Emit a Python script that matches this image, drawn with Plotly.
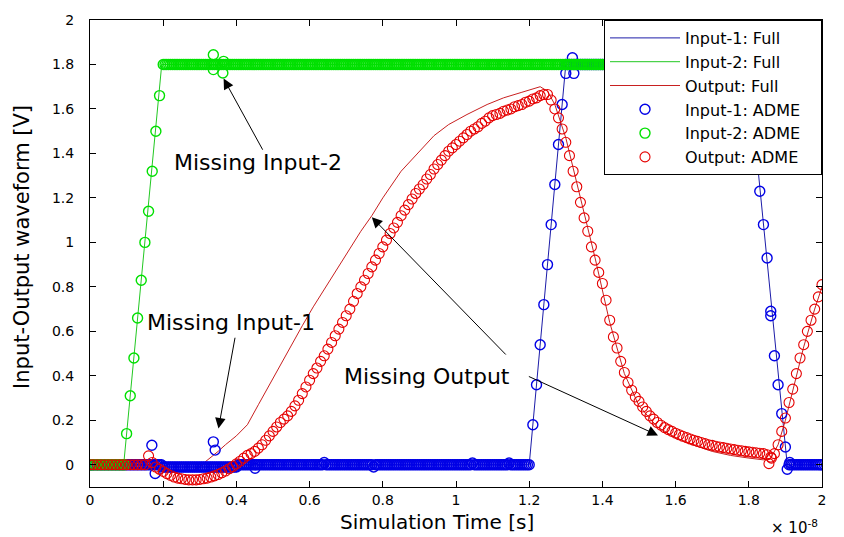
import plotly.graph_objects as go

# ---------------- data (time in units of 1e-8 s) ----------------
# "Full" simulation waveforms (breakpoints)
t_in1_full = [0.0, 0.18, 0.20, 0.40, 0.42, 1.20, 1.30, 1.797, 1.905, 2.0]
v_in1_full = [0.0, 0.0, -0.01, -0.01, 0.0, 0.0, 1.80, 1.80, 0.0, 0.0]

t_in2_full = [0.0, 0.092, 0.196, 2.0]
v_in2_full = [0.0, 0.0, 1.80, 1.80]

t_out_full = [0.0, 0.16, 0.18, 0.20, 0.24, 0.28, 0.30, 0.32, 0.35, 0.37, 0.40, 0.43,
              0.46, 0.49, 0.52, 0.55, 0.58, 0.61, 0.65, 0.70, 0.74, 0.77, 0.80, 0.85,
              0.90, 0.94, 0.98, 1.03, 1.085, 1.13, 1.18, 1.23, 1.25, 1.27, 1.30, 1.34,
              1.38, 1.42, 1.46, 1.50, 1.55, 1.60, 1.65, 1.70, 1.75, 1.80, 1.84, 1.86,
              1.88, 1.90, 1.92, 1.95, 1.98, 2.0]
v_out_full = [0.0, 0.0, -0.01, -0.02, -0.03, -0.025, -0.01, 0.02, 0.06, 0.09, 0.13, 0.18,
              0.27, 0.36, 0.445, 0.535, 0.625, 0.71, 0.815, 0.945, 1.05, 1.12, 1.20, 1.32,
              1.41, 1.48, 1.53, 1.575, 1.62, 1.65, 1.675, 1.70, 1.68, 1.62, 1.47, 1.20,
              0.93, 0.64, 0.41, 0.265, 0.17, 0.122, 0.088, 0.06, 0.042, 0.03, 0.022, 0.03,
              0.09, 0.20, 0.33, 0.53, 0.70, 0.80]

# ADME samples: inputs on a 0.005 time grid (None = no sample), output on a 0.01 grid
t_fine = [i / 200 for i in range(401)]
t_grid = [i / 100 for i in range(201)]

N = None
v_in1_adme = [
    0, 0, 0, 0, 0, 0, 0, 0, 0, 0, 0, 0, 0, 0, 0, 0, 0, 0, 0, 0,                       # 0.000-0.095
    0, 0, 0, 0, 0, 0, 0, 0, 0, 0, 0, 0, 0, 0, 0, 0, 0, 0, 0, 0,                       # 0.100-0.195
    -0.01, -0.01, -0.01, -0.01, -0.01, -0.01, -0.01, -0.01, -0.01, -0.01,             # 0.200-0.245
    -0.01, -0.01, -0.01, -0.01, -0.01, -0.01, -0.01, -0.01, -0.01, -0.01,             # 0.250-0.295
    -0.01, -0.01, -0.01, -0.01, -0.01, -0.01, -0.01, -0.01, -0.01, -0.01,             # 0.300-0.345
    -0.01, -0.01, -0.01, -0.01, -0.01, -0.01, -0.01, -0.01, -0.01, -0.01, -0.01,      # 0.350-0.400
    0, 0, 0, 0, 0, 0, 0, 0, 0, 0, 0, 0, 0, 0, 0, 0, 0, 0, 0, 0,                       # 0.405-0.500
    0, 0, 0, 0, 0, 0, 0, 0, 0, 0, 0, 0, 0, 0, 0, 0, 0, 0, 0, 0,                       # 0.505-0.600
    0, 0, 0, 0, 0, 0, 0, 0.01, 0, 0, 0, 0, 0, 0, 0, 0, 0, 0, 0, 0,                    # 0.605-0.700
    0, 0, 0, 0, 0, 0, 0, 0, 0, 0, 0, 0, 0, 0, -0.01, 0, 0, 0, 0, 0,                   # 0.705-0.800
    0, 0, 0, 0, 0, 0, 0, 0, 0, 0, 0, 0, 0, 0, 0, 0, 0, 0, 0, 0,                       # 0.805-0.900
    0, 0, 0, 0, 0, 0, 0, 0, 0, 0, 0, 0, 0, 0, 0, 0, 0, 0, 0, 0,                       # 0.905-1.000
    0, 0, 0, 0, 0, 0, 0, 0, 0.008, 0, 0, 0, 0, 0, 0, 0, 0, 0, 0, 0,                   # 1.005-1.100
    0, 0, 0, 0, 0, 0, 0, 0, 0.008, 0, 0, 0, 0, 0, 0, 0, 0, 0, 0, 0,                   # 1.105-1.200
    N, 0.18, N, 0.36, N, 0.54, N, 0.72, N, 0.90, N, 1.08, N, 1.26, N, 1.44, N, 1.62, N, 1.80,  # 1.205-1.300
    1.8, 1.8, 1.8, 1.8, 1.8, 1.8, 1.8, 1.8, 1.8, 1.8, 1.8, 1.8, 1.8, 1.8, 1.8, 1.8, 1.8, 1.8, 1.8, 1.8,  # 1.305-1.400
    1.8, 1.8, 1.8, 1.8, 1.8, 1.8, 1.8, 1.8, 1.8, 1.8, 1.8, 1.8, 1.8, 1.8, 1.8, 1.8, 1.8, 1.8, 1.8, 1.8,  # 1.405-1.500
    1.8, 1.8, 1.8, 1.8, 1.8, 1.8, 1.8, 1.8, 1.8, 1.8, 1.8, 1.8, 1.8, 1.8, 1.8, 1.8, 1.8, 1.8, 1.8, 1.8,  # 1.505-1.600
    1.8, 1.8, 1.8, 1.8, 1.8, 1.8, 1.8, 1.8, 1.8, 1.8, 1.8, 1.8, 1.8, 1.8, 1.8, 1.8, 1.8, 1.8, 1.8, 1.8,  # 1.605-1.700
    1.8, 1.8, 1.8, 1.8, 1.8, 1.8, 1.8, 1.8, 1.8, 1.8, 1.8, 1.8, 1.8, 1.8, 1.8, 1.8, 1.8, 1.8, 1.8, 1.8,  # 1.705-1.800
    N, 1.60, N, 1.42, N, 1.23, N, 1.08, N, 0.93, N, 0.69, N, 0.49, N, 0.36, N, 0.23, N, 0.08, N, 0.0,    # 1.805-1.910
    0, 0, 0, 0, 0, 0, 0, 0, 0, 0, 0, 0, 0, 0, 0, 0, 0, 0,                             # 1.915-2.000
]
t_in1_extra = [0.169, 0.178, 0.337, 0.342, 0.451, 1.300, 1.318, 1.322, 1.860, 1.905, 1.912]
v_in1_extra = [0.088, -0.039, 0.103, 0.066, -0.016, 1.76, 1.83, 1.76, 0.67, -0.02, 0.01]

v_in2_adme = [
    0, 0, 0, 0, 0, 0, 0, 0, 0, 0, 0, 0, 0, 0, 0, 0, 0, 0, 0, 0,                       # 0.000-0.095
    0.14, N, 0.31, N, 0.48, N, 0.66, N, 0.83, N, 1.00, N, 1.14, N, 1.32, N, 1.50, N, 1.66, N,  # 0.100-0.195
    1.8, 1.8, 1.8, 1.8, 1.8, 1.8, 1.8, 1.8, 1.8, 1.8, 1.8, 1.8, 1.8, 1.8, 1.8, 1.8, 1.8, 1.8, 1.8, 1.8,  # 0.200-0.295
    1.8, 1.8, 1.8, 1.8, 1.8, 1.8, 1.8, 1.8, 1.8, 1.8, 1.8, 1.8, 1.8, 1.8, 1.8, 1.8, 1.8, 1.8, 1.8, 1.8,  # 0.300-0.395
    1.8, 1.8, 1.8, 1.8, 1.8, 1.8, 1.8, 1.8, 1.8, 1.8, 1.8, 1.8, 1.8, 1.8, 1.8, 1.8, 1.8, 1.8, 1.8, 1.8,  # 0.400-0.495
    1.8, 1.8, 1.8, 1.8, 1.8, 1.8, 1.8, 1.8, 1.8, 1.8, 1.8, 1.8, 1.8, 1.8, 1.8, 1.8, 1.8, 1.8, 1.8, 1.8,  # 0.500-0.595
    1.8, 1.8, 1.8, 1.8, 1.8, 1.8, 1.8, 1.8, 1.8, 1.8, 1.8, 1.8, 1.8, 1.8, 1.8, 1.8, 1.8, 1.8, 1.8, 1.8,  # 0.600-0.695
    1.8, 1.8, 1.8, 1.8, 1.8, 1.8, 1.8, 1.8, 1.8, 1.8, 1.8, 1.8, 1.8, 1.8, 1.8, 1.8, 1.8, 1.8, 1.8, 1.8,  # 0.700-0.795
    1.8, 1.8, 1.8, 1.8, 1.8, 1.8, 1.8, 1.8, 1.8, 1.8, 1.8, 1.8, 1.8, 1.8, 1.8, 1.8, 1.8, 1.8, 1.8, 1.8,  # 0.800-0.895
    1.8, 1.8, 1.8, 1.8, 1.8, 1.8, 1.8, 1.8, 1.8, 1.8, 1.8, 1.8, 1.8, 1.8, 1.8, 1.8, 1.8, 1.8, 1.8, 1.8,  # 0.900-0.995
    1.8, 1.8, 1.8, 1.8, 1.8, 1.8, 1.8, 1.8, 1.8, 1.8, 1.8, 1.8, 1.8, 1.8, 1.8, 1.8, 1.8, 1.8, 1.8, 1.8,  # 1.000-1.095
    1.8, 1.8, 1.8, 1.8, 1.8, 1.8, 1.8, 1.8, 1.8, 1.8, 1.8, 1.8, 1.8, 1.8, 1.8, 1.8, 1.8, 1.8, 1.8, 1.8,  # 1.100-1.195
    1.8, 1.8, 1.8, 1.8, 1.8, 1.8, 1.8, 1.8, 1.8, 1.8, 1.8, 1.8, 1.8, 1.8, 1.8, 1.8, 1.8, 1.8, 1.8, 1.8,  # 1.200-1.295
    1.8, 1.8, 1.8, 1.8, 1.8, 1.8, 1.8, 1.8, 1.8, 1.8, 1.8, 1.8, 1.8, 1.8, 1.8, 1.8, 1.8, 1.8, 1.8, 1.8,  # 1.300-1.395
    1.8, 1.8, 1.8, 1.8, 1.8, 1.8, 1.8, 1.8, 1.8, 1.8, 1.8, 1.8, 1.8, 1.8, 1.8, 1.8, 1.8, 1.8, 1.8, 1.8,  # 1.400-1.495
    1.8, 1.8, 1.8, 1.8, 1.8, 1.8, 1.8, 1.8, 1.8, 1.8, 1.8, 1.8, 1.8, 1.8, 1.8, 1.8, 1.8, 1.8, 1.8, 1.8,  # 1.500-1.595
    1.8, 1.8, 1.8, 1.8, 1.8, 1.8, 1.8, 1.8, 1.8, 1.8, 1.8, 1.8, 1.8, 1.8, 1.8, 1.8, 1.8, 1.8, 1.8, 1.8,  # 1.600-1.695
    1.8, 1.8, 1.8, 1.8, 1.8, 1.8, 1.8, 1.8, 1.8, 1.8, 1.8, 1.8, 1.8, 1.8, 1.8, 1.8, 1.8, 1.8, 1.8, 1.8,  # 1.700-1.795
    1.8, 1.8, 1.8, 1.8, 1.8, 1.8, 1.8, 1.8, 1.8, 1.8, 1.8, 1.8, 1.8, 1.8, 1.8, 1.8, 1.8, 1.8, 1.8, 1.8,  # 1.800-1.895
    1.8, 1.8, 1.8, 1.8, 1.8, 1.8, 1.8, 1.8, 1.8, 1.8, 1.8, 1.8, 1.8, 1.8, 1.8, 1.8, 1.8, 1.8, 1.8, 1.8,  # 1.900-1.995
    1.8,                                                                              # 2.000
]
t_in2_extra = [0.337, 0.337, 0.365, 0.363]
v_in2_extra = [1.844, 1.777, 1.814, 1.762]

v_out_adme = [
    0, 0, 0, 0, 0, 0, 0, 0, 0, 0, 0, 0, 0, 0, 0, 0,                                   # 0.00-0.15
    0.04, 0.01, -0.01, -0.02, -0.03, -0.04, -0.048, -0.055, -0.06, -0.063,            # 0.16-0.25
    -0.066, -0.068, -0.068, -0.068, -0.066, -0.063, -0.06, -0.055, -0.05, -0.044,     # 0.26-0.35
    -0.036, -0.028, -0.018, -0.008, 0.004, 0.016, 0.03, 0.042, 0.05, 0.06,            # 0.36-0.45
    0.075, 0.09, 0.11, 0.13, 0.15,                                                    # 0.46-0.50
    0.17, 0.19, 0.205, 0.22, 0.24, 0.265, 0.29, 0.32, 0.35, 0.38,                     # 0.51-0.60
    0.41, 0.435, 0.465, 0.49, 0.52, 0.55, 0.58, 0.61, 0.64, 0.67,                     # 0.61-0.70
    0.70, 0.735, 0.77, 0.80, 0.83, 0.86, 0.89, 0.92, 0.95, 0.98,                      # 0.71-0.80
    1.01, 1.04, 1.065, 1.09, 1.12, 1.145, 1.17, 1.195, 1.22, 1.24,                    # 0.81-0.90
    1.26, 1.285, 1.305, 1.33, 1.35, 1.37, 1.39, 1.41, 1.425, 1.44,                    # 0.91-1.00
    1.455, 1.47, 1.485, 1.50, 1.51, 1.52, 1.535, 1.545, 1.56, 1.57,                   # 1.01-1.10
    1.575, 1.58, 1.59, 1.595, 1.60, 1.61, 1.615, 1.62, 1.63, 1.635,                   # 1.11-1.20
    1.645, 1.65, 1.66, 1.665, 1.665, 1.64, 1.60, 1.56, 1.51, 1.45,                    # 1.21-1.30
    1.39, 1.32, 1.25, 1.18, 1.11, 1.05, 0.98, 0.92, 0.865, 0.815,                     # 1.31-1.40
    0.74, 0.65, 0.575, 0.525, 0.465, 0.415, 0.37, 0.335, 0.305, 0.285,                # 1.41-1.50
    0.26, 0.24, 0.22, 0.205, 0.19, 0.178, 0.167, 0.158, 0.15, 0.142,                  # 1.51-1.60
    0.135, 0.128, 0.122, 0.116, 0.11, 0.105, 0.10, 0.095, 0.09, 0.087,                # 1.61-1.70
    0.083, 0.08, 0.077, 0.074, 0.071, 0.068, 0.065, 0.063, 0.06, 0.058,               # 1.71-1.80
    0.056, 0.054, 0.052, 0.05, 0.045, 0.035, 0.05, 0.09, 0.15, 0.21,                  # 1.81-1.90
    0.28, 0.34, 0.41, 0.48, 0.54, 0.60, 0.65, 0.70, 0.755, 0.81,                      # 1.91-2.00
]
t_out_extra = [1.855, 1.862]
v_out_extra = [0.005, 0.03]

assert len(v_in1_adme) == len(t_fine)
assert len(v_in2_adme) == len(t_fine)
assert len(v_out_adme) == len(t_grid)

tick_vals = [0, 0.2, 0.4, 0.6, 0.8, 1.0, 1.2, 1.4, 1.6, 1.8, 2.0]
tick_text = ["0", "0.2", "0.4", "0.6", "0.8", "1", "1.2", "1.4", "1.6", "1.8", "2"]

# annotation texts and arrows: (tip_x, tip_y, tail_x, tail_y)
notes = [
    ("Missing Input-2", 0.224, 1.36),
    ("Missing Input-1", 0.150, 0.638),
    ("Missing Output", 0.689, 0.397),
]
arrows = [
    (0.365, 1.737, 0.474, 1.41),
    (0.351, 0.163, 0.397, 0.578),
    (0.770, 1.113, 1.140, 0.489),
    (1.552, 0.132, 1.195, 0.400),
]

# ---------------- figure ----------------
FONT = "DejaVu Sans, Liberation Sans, Arial"
C_BLUE_L, C_GREEN_L, C_RED_L = "#1c1ca8", "#22c822", "#c82020"
C_BLUE_M, C_GREEN_M, C_RED_M = "#0000e6", "#00e000", "#e60000"
PAD = "\u00a0\u00a0\u00a0"

fig = go.Figure()
for t, v, c, name in [(t_in1_full, v_in1_full, C_BLUE_L, "Input-1: Full"),
                      (t_in2_full, v_in2_full, C_GREEN_L, "Input-2: Full"),
                      (t_out_full, v_out_full, C_RED_L, "Output: Full")]:
    fig.add_trace(go.Scatter(x=t, y=v, mode="lines", name=name + PAD,
                             line=dict(color=c, width=1)))

for tg, v, te, ve, c, lw, name in [(t_fine, v_in1_adme, t_in1_extra, v_in1_extra, C_BLUE_M, 1.4, "Input-1: ADME"),
                                   (t_fine, v_in2_adme, t_in2_extra, v_in2_extra, C_GREEN_M, 1.4, "Input-2: ADME"),
                                   (t_grid, v_out_adme, t_out_extra, v_out_extra, C_RED_M, 1.1, "Output: ADME")]:
    fig.add_trace(go.Scatter(x=tg + te, y=v + ve, mode="markers", name=name + PAD,
                             marker=dict(symbol="circle-open", size=10, color=c,
                                         line=dict(width=lw, color=c))))

annots = []
for txt, x, y in notes:
    annots.append(dict(x=x, y=y, xref="x", yref="y", text=txt, showarrow=False,
                       xanchor="left", yanchor="middle",
                       font=dict(family=FONT, size=22, color="black")))
for tx, ty, ax, ay in arrows:
    annots.append(dict(x=tx, y=ty, ax=ax, ay=ay, xref="x", yref="y", axref="x", ayref="y",
                       text="", showarrow=True, arrowhead=2, arrowsize=2.1,
                       arrowwidth=1, arrowcolor="black"))
# axis titles and exponent
annots.append(dict(x=0.474, y=-0.074, xref="paper", yref="paper", text="Simulation Time [s]",
                   showarrow=False, xanchor="center", yanchor="middle",
                   font=dict(family=FONT, size=20, color="black")))
annots.append(dict(x=-0.093, y=0.514, xref="paper", yref="paper", text="Input-Output waveform [V]",
                   showarrow=False, xanchor="center", yanchor="middle", textangle=-90,
                   font=dict(family=FONT, size=21, color="black")))
annots.append(dict(x=0.962, y=-0.086, xref="paper", yref="paper", text="× 10<sup>-8</sup>",
                   showarrow=False, xanchor="center", yanchor="middle",
                   font=dict(family=FONT, size=15, color="black")))

axis_common = dict(showline=True, linecolor="black", linewidth=1, mirror="ticks",
                   ticks="inside", ticklen=6, tickcolor="black", showgrid=False,
                   zeroline=False, tickvals=tick_vals, ticktext=tick_text,
                   tickfont=dict(family=FONT, size=14, color="black"))

fig.update_layout(
    width=844, height=537,
    margin=dict(l=90, r=22, t=16, b=50),
    paper_bgcolor="white", plot_bgcolor="white",
    font=dict(family=FONT, size=13, color="black"),
    xaxis=dict(range=[0, 2], **axis_common),
    yaxis=dict(range=[-0.1, 2], ticklabelstandoff=12, **axis_common),
    legend=dict(x=1, y=1, xanchor="right", yanchor="top", bgcolor="white",
                bordercolor="black", borderwidth=1, itemwidth=70,
                font=dict(family=FONT, size=16, color="black")),
    annotations=annots,
    showlegend=True,
)

fig.write_html("out.html")
